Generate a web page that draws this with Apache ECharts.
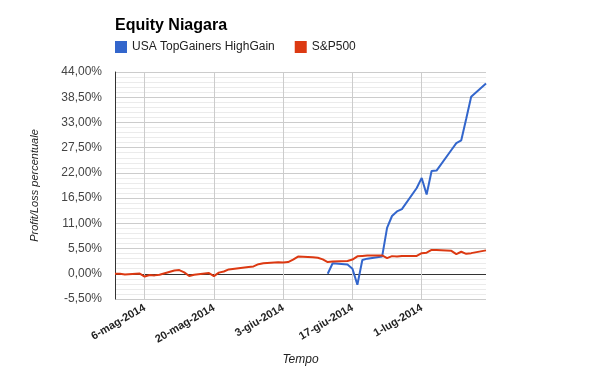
<!DOCTYPE html>
<html>
<head>
<meta charset="utf-8">
<script src="https://cdn.jsdelivr.net/npm/echarts@6/dist/echarts.min.js"></script>
<style>html,body{margin:0;padding:0;background:#fff}#c{width:600px;height:371px}</style>
</head>
<body>
<div id="c"></div>
<script>
const title = 'Equity Niagara';
const seriesNames = ['USA TopGainers HighGain', 'S&P500'];
const dates = ['2014-04-30','2014-05-01','2014-05-02','2014-05-05','2014-05-06','2014-05-07','2014-05-08','2014-05-09',
  '2014-05-12','2014-05-13','2014-05-14','2014-05-15','2014-05-16','2014-05-19','2014-05-20','2014-05-21','2014-05-22','2014-05-23',
  '2014-05-27','2014-05-28','2014-05-29','2014-05-30','2014-06-02','2014-06-03','2014-06-04','2014-06-05','2014-06-06',
  '2014-06-09','2014-06-10','2014-06-11','2014-06-12','2014-06-13','2014-06-16','2014-06-17','2014-06-18','2014-06-19','2014-06-20',
  '2014-06-23','2014-06-24','2014-06-25','2014-06-26','2014-06-27','2014-06-30','2014-07-01','2014-07-02','2014-07-03','2014-07-04',
  '2014-07-07','2014-07-08','2014-07-09','2014-07-10','2014-07-11','2014-07-14'];
const topGainers = [null,null,null,null,null,null,null,null,
  null,null,null,null,null,null,null,null,null,null,
  null,null,null,null,null,null,null,null,null,
  null,null,null,0,2.3,2.0,1.1,-2.4,3.0,3.3,
  3.75,10.0,12.6,13.6,14.1,18.7,20.9,17.3,22.4,22.5,
  27.0,28.5,29.1,33.8,38.6,41.5];
const sp500 = [0,0,-0.15,0.05,-0.6,-0.25,-0.35,-0.2,
  0.7,0.8,0.3,-0.5,-0.2,0.15,-0.5,0.25,0.5,0.95,
  1.5,1.6,2.1,2.3,2.5,2.45,2.55,3.1,3.75,
  3.6,3.5,3.15,2.55,2.7,2.8,3.1,3.8,3.9,4.0,
  4.0,3.4,3.85,3.75,3.9,3.9,4.5,4.6,5.2,5.2,
  5.0,4.3,4.8,4.35,4.5,5.1];
const xMin = '2014-04-30';
const xMax = '2014-07-14';
const xTicks = ['2014-05-06','2014-05-20','2014-06-03','2014-06-17','2014-07-01'];
const yMin = -5.5, yMax = 44, yStep = 5.5;
const monthNames = ['gen','feb','mar','apr','mag','giu','lug','ago','set','ott','nov','dic'];

const DAY = 86400000;
function utc(s){ const p = s.split('-').map(Number); return Date.UTC(p[0], p[1]-1, p[2]); }
const base = utc(xMin);
function dayNo(s){ return Math.round((utc(s) - base) / DAY); }
function pairs(vals){ return dates.map((d,i)=>[dayNo(d), vals[i]]); }

const chart = echarts.init(document.getElementById('c'), null, {renderer:'canvas'});
const yColors = [];
for (let k = 0; yMin + k * yStep <= yMax + 1e-9; k++) {
  const v = yMin + k * yStep;
  yColors.push(Math.abs(v) < 1e-9 ? '#333333' : '#cccccc');
}
const tickDays = xTicks.map(dayNo);

chart.setOption({
  animation: false,
  title: {
    text: title, left: 115, top: 18, padding: 0,
    textStyle: {fontFamily: 'Liberation Sans, Arial, sans-serif', fontSize: 16, fontWeight: 'bold', color: '#000'}
  },
  legend: {
    left: 115, top: 41, padding: 0, itemWidth: 12, itemHeight: 12, itemGap: 20, icon: 'rect',
    textStyle: {fontFamily: 'Liberation Sans, Arial, sans-serif', fontSize: 12, color: '#222'},
    data: seriesNames
  },
  grid: {left: 115, right: 114, top: 72, bottom: 72, containLabel: false},
  xAxis: {
    type: 'value', min: 0, max: dayNo(xMax),
    name: 'Tempo', nameLocation: 'middle', nameGap: 55,
    nameTextStyle: {fontFamily: 'Liberation Sans, Arial, sans-serif', fontSize: 12, fontStyle: 'italic', color: '#222'},
    axisLine: {show: false},
    axisTick: {show: false, customValues: tickDays},
    axisLabel: {
      customValues: tickDays, rotate: 30, margin: 8,
      fontFamily: 'Liberation Sans, Arial, sans-serif', fontSize: 11, fontWeight: 'bold', color: '#222',
      formatter: function(v){ const d = new Date(base + v * DAY); return d.getUTCDate() + '-' + monthNames[d.getUTCMonth()] + '-' + d.getUTCFullYear(); }
    },
    splitLine: {show: true, lineStyle: {color: '#cccccc', width: 1}}
  },
  yAxis: {
    type: 'value', min: yMin, max: yMax, interval: yStep,
    name: 'Profit/Loss percentuale', nameLocation: 'middle', nameGap: 75,
    nameTextStyle: {fontFamily: 'Liberation Sans, Arial, sans-serif', fontSize: 11, fontStyle: 'italic', color: '#222'},
    axisLine: {show: true, lineStyle: {color: '#333333', width: 1}},
    axisTick: {show: false},
    axisLabel: {
      margin: 13, fontFamily: 'Liberation Sans, Arial, sans-serif', fontSize: 12, color: '#444',
      formatter: function(v){ return v.toFixed(2).replace('.', ',') + '%'; }
    },
    splitLine: {show: true, lineStyle: {color: yColors, width: 1}},
    minorTick: {show: false, splitNumber: 5},
    minorSplitLine: {show: true, lineStyle: {color: '#ebebeb', width: 1}}
  },
  series: [
    {name: seriesNames[0], type: 'line', data: pairs(topGainers), showSymbol: false, symbol: 'none',
     lineStyle: {color: '#3366cc', width: 2}, itemStyle: {color: '#3366cc'}},
    {name: seriesNames[1], type: 'line', data: pairs(sp500), showSymbol: false, symbol: 'none',
     lineStyle: {color: '#dc3912', width: 2}, itemStyle: {color: '#dc3912'}}
  ]
});
</script>
</body>
</html>
